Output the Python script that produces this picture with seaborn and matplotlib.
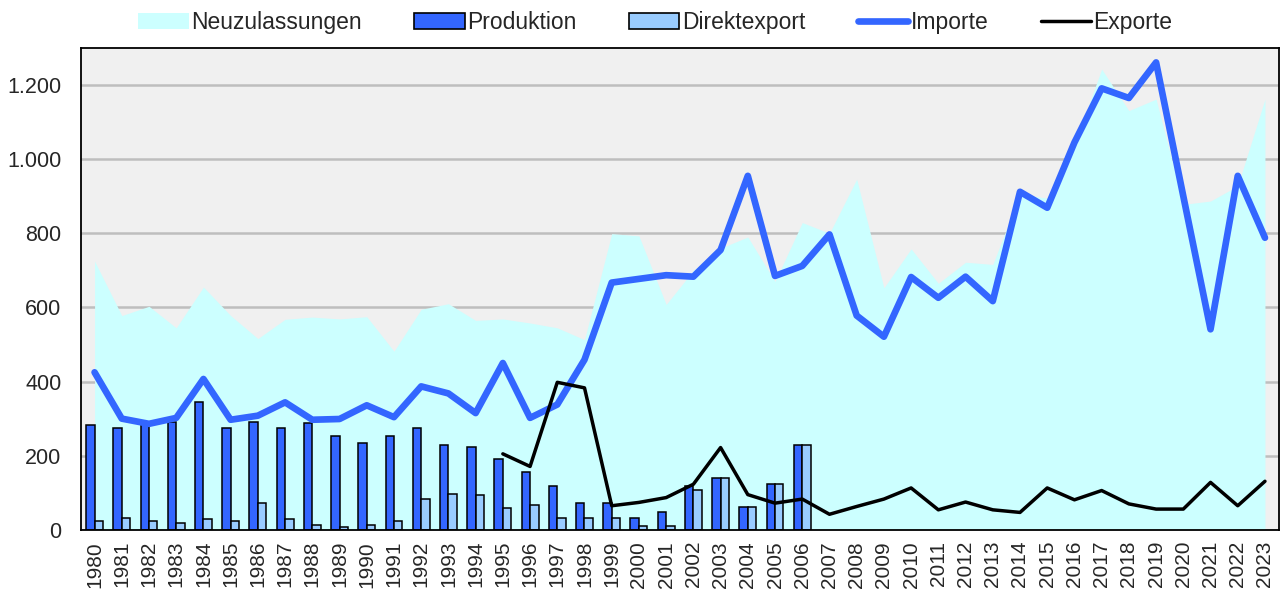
import numpy as np
import pandas as pd
import matplotlib
matplotlib.use("Agg")
import matplotlib.pyplot as plt
import seaborn as sns
from matplotlib.patches import Patch
from matplotlib.lines import Line2D
from matplotlib.ticker import FuncFormatter, MultipleLocator

# data
years = [str(y) for y in range(1980, 2024)]

neuzulassungen = [725, 578, 603, 545, 655, 578, 516, 568, 574, 569, 575,
                  482, 595, 610, 565, 569, 558, 545, 513, 799, 793,
                  608, 700, 760, 790, 670, 829, 800, 946, 653, 758,
                  665, 722, 716, 905, 895, 1040, 1243, 1131, 1162, 878,
                  887, 928, 1162]

importe = [425, 300, 286, 302, 407, 297, 308, 344, 297, 299, 336,
           304, 387, 368, 315, 450, 302, 338, 459, 667, 677,
           687, 683, 755, 955, 685, 712, 797, 578, 521, 682,
           626, 683, 617, 912, 869, 1045, 1191, 1165, 1261, 900,
           541, 955, 788]

# exports only from 1995 on
exporte = [np.nan] * 15 + [205, 171, 398, 383, 65, 74,
                           87, 123, 222, 95, 72, 83, 42, 63, 83, 113,
                           54, 75, 54, 47, 113, 81, 106, 70, 56, 56,
                           128, 65, 131]

# bars 1980-2006
bar_years = years[:27]
produktion = [284, 275, 285, 292, 344, 275, 290, 276, 287, 252, 234,
              254, 275, 230, 223, 192, 156, 117, 72, 72, 31,
              49, 117, 140, 61, 123, 228]
direktexport = [24, 32, 23, 18, 30, 25, 72, 30, 14, 7, 12,
                25, 84, 97, 94, 58, 68, 32, 32, 32, 11,
                11, 108, 140, 61, 123, 228]

c_area = "#CCFFFF"
c_prod = "#3366FF"
c_dir = "#99CCFF"
c_imp = "#3366FF"

bars = pd.DataFrame({
    "Jahr": bar_years * 2,
    "Serie": ["Produktion"] * len(bar_years) + ["Direktexport"] * len(bar_years),
    "Wert": produktion + direktexport,
})

sns.set_style("white")
plt.rcParams["font.family"] = ["Liberation Sans", "DejaVu Sans"]

fig = plt.figure(figsize=(12.85, 5.92), dpi=100)
ax = fig.add_axes([0.063, 0.105, 0.932, 0.814])
ax.set_facecolor("#F0F0F0")

x = np.arange(len(years))

# grid below everything
ax.set_axisbelow(True)
ax.yaxis.grid(True, color="#BEBEBE", linewidth=1.8)

ax.fill_between(x, neuzulassungen, 0, color=c_area, linewidth=0, zorder=1)

sns.barplot(data=bars, x="Jahr", y="Wert", hue="Serie", order=years,
            hue_order=["Produktion", "Direktexport"],
            palette=[c_prod, c_dir], width=0.62, dodge=True,
            edgecolor="black", linewidth=1.1, saturation=1,
            legend=False, ax=ax, zorder=2)

sns.lineplot(x=x, y=importe, color=c_imp, linewidth=4.8, ax=ax, zorder=3,
             solid_joinstyle="round", solid_capstyle="round")
sns.lineplot(x=x, y=exporte, color="black", linewidth=2.5, ax=ax, zorder=4)

ax.set_xlim(-0.5, len(years) - 0.5)
ax.set_ylim(0, 1300)
ax.set_xlabel("")
ax.set_ylabel("")

ax.yaxis.set_major_locator(MultipleLocator(200))
ax.yaxis.set_major_formatter(FuncFormatter(lambda v, p: f"{int(v):,}".replace(",", ".")))
ax.tick_params(axis="y", direction="out", length=5, width=1, labelsize=15.5, pad=9)

ax.set_xticks(x)
ax.set_xticklabels(years, rotation=90)
ax.set_xticks(np.arange(-0.5, len(years)), minor=True)
ax.tick_params(axis="x", which="major", length=0, labelsize=15, pad=8)
ax.tick_params(axis="x", which="minor", direction="out", length=6, width=1)

for s in ax.spines.values():
    s.set_visible(True)
    s.set_color("black")
    s.set_linewidth(1.3)

handles = [
    Patch(facecolor=c_area, edgecolor="none", label="Neuzulassungen"),
    Patch(facecolor=c_prod, edgecolor="black", linewidth=1.2, label="Produktion"),
    Patch(facecolor=c_dir, edgecolor="black", linewidth=1.2, label="Direktexport"),
    Line2D([0], [0], color=c_imp, linewidth=4.8, label="Importe"),
    Line2D([0], [0], color="black", linewidth=2.5, label="Exporte"),
]
fig.legend(handles=handles, loc="center", bbox_to_anchor=(0.51, 0.962), ncol=5,
           frameon=False, fontsize=16.5, handlelength=2.2, handletextpad=0.1,
           columnspacing=2.3)

fig.savefig("out.png", dpi=100)
